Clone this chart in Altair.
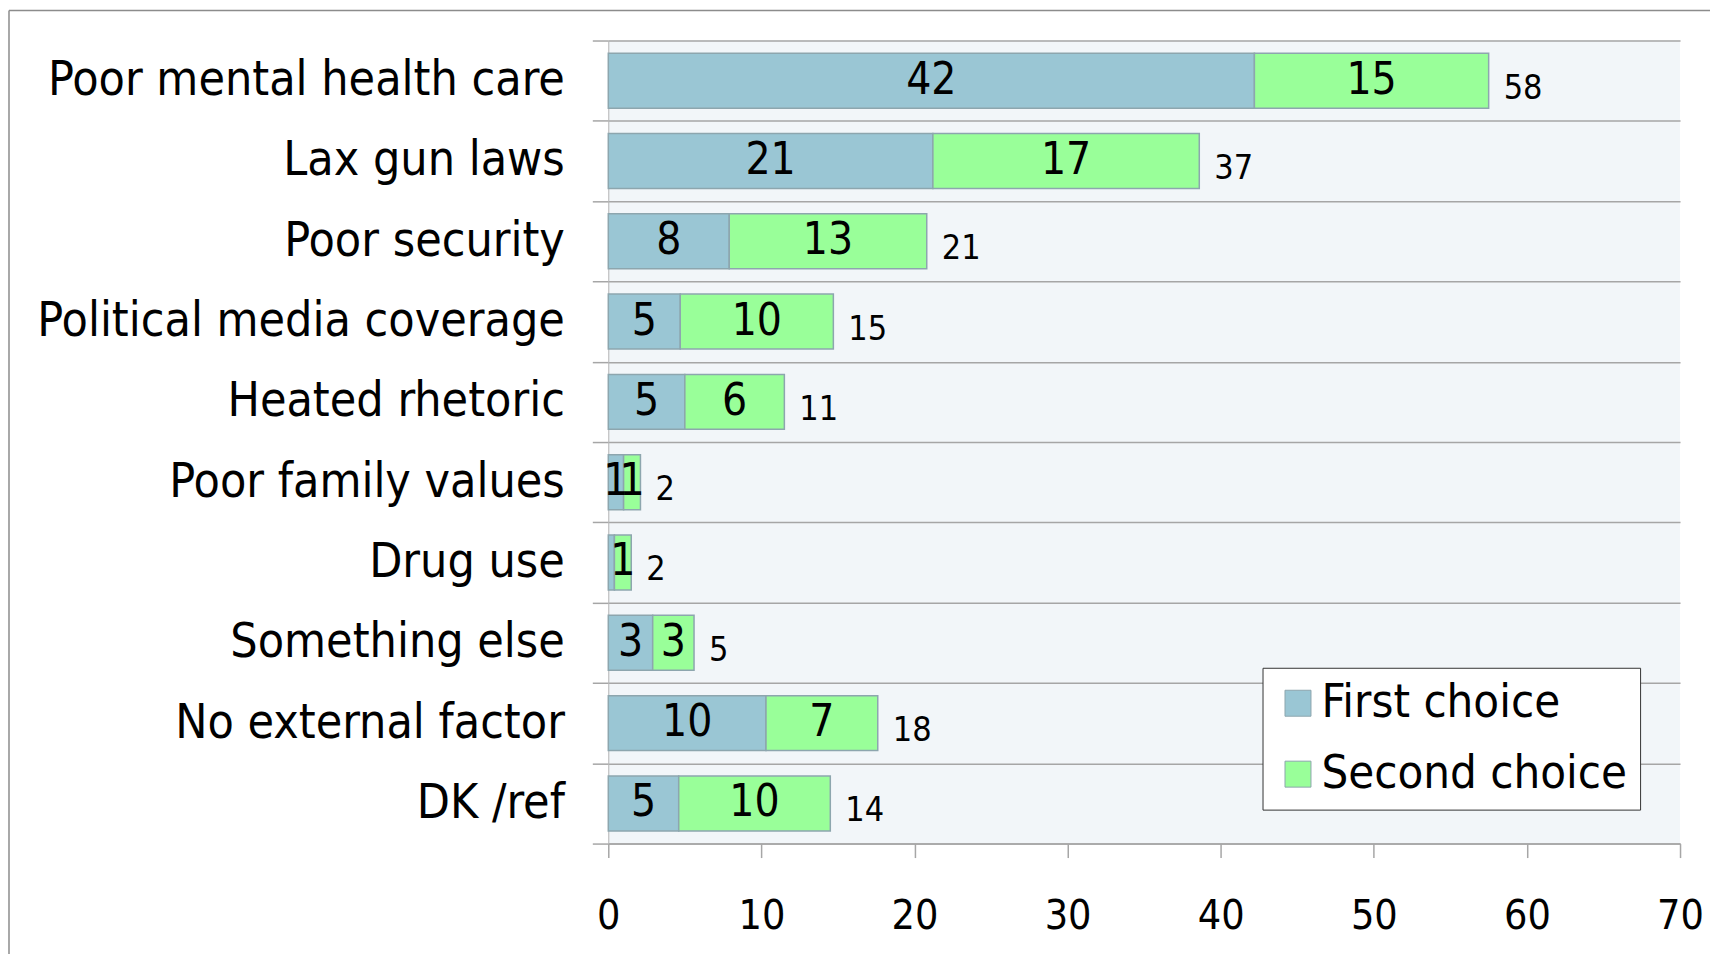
import altair as alt
import pandas as pd

categories = [
    "Poor mental health care",
    "Lax gun laws",
    "Poor security",
    "Political media coverage",
    "Heated rhetoric",
    "Poor family values",
    "Drug use",
    "Something else",
    "No external factor",
    "DK /ref",
]
first_choice = [42.2, 21.2, 7.9, 4.7, 5.0, 1.0, 0.4, 2.9, 10.3, 4.6]
second_choice = [15.3, 17.4, 12.9, 10.0, 6.5, 1.1, 1.1, 2.7, 7.3, 9.9]
first_labels = ["42", "21", "8", "5", "5", "1", "", "3", "10", "5"]
second_labels = ["15", "17", "13", "10", "6", "1", "1", "3", "7", "10"]
total_labels = ["58", "37", "21", "15", "11", "2", "2", "5", "18", "14"]
series_names = ["First choice", "Second choice"]
series_colors = ["#9AC6D4", "#99FF99"]
x_ticks = [0, 10, 20, 30, 40, 50, 60, 70]

FONT = "DejaVu Sans Condensed, DejaVu Sans, sans-serif"
GRID = "#A6A6A6"
EDGE = "#8DA6AE"

rows = []
for c, f, s, fl, sl in zip(categories, first_choice, second_choice, first_labels, second_labels):
    rows.append({"category": c, "series": series_names[0], "start": 0.0, "end": f, "label": fl})
    rows.append({"category": c, "series": series_names[1], "start": f, "end": f + s, "label": sl})
seg = pd.DataFrame(rows)
seg["mid"] = (seg["start"] + seg["end"]) / 2

tot = pd.DataFrame({
    "category": categories,
    "total": [f + s for f, s in zip(first_choice, second_choice)],
    "label": total_labels,
})

y_enc = alt.Y(
    "category:N",
    sort=categories,
    scale=alt.Scale(paddingInner=0, paddingOuter=0),
    axis=alt.Axis(
        title=None, labelFontSize=48, labelFont=FONT, labelColor="black",
        tickSize=16, tickBand="extent", tickColor=GRID, tickWidth=1.5,
        grid=True, gridColor=GRID, gridWidth=1.5,
        domainColor="#B4B4B4", domainWidth=1, labelPadding=28, labelLimit=800,
    ),
)
x_scale = alt.Scale(domain=[0, 70], nice=False, zero=True)
x_axis = alt.Axis(
    title=None, values=x_ticks, grid=False, tickSize=14, tickColor=GRID, tickWidth=1.5,
    domainColor=GRID, domainWidth=1.5, labelFontSize=41, labelFont=FONT,
    labelColor="black", labelPadding=39, labelFlush=False,
)

bars = alt.Chart(seg).mark_bar(size=55, stroke=EDGE, strokeWidth=1.5).encode(
    y=y_enc,
    x=alt.X("start:Q", scale=x_scale, axis=x_axis),
    x2="end:Q",
    color=alt.Color(
        "series:N",
        scale=alt.Scale(domain=series_names, range=series_colors),
        legend=alt.Legend(
            title=None, orient="none", legendX=655, legendY=628, direction="vertical",
            labelFontSize=47, labelFont=FONT, labelColor="black", labelLimit=500,
            symbolType="square", symbolSize=676, symbolStrokeColor=EDGE,
            symbolStrokeWidth=1, symbolOpacity=1, labelOffset=0, rowPadding=23,
            padding=12, strokeColor="#333333", fillColor="white",
        ),
    ),
)

seg_text = alt.Chart(seg).mark_text(fontSize=44, font=FONT, color="black").encode(
    y=alt.Y("category:N", sort=categories),
    x=alt.X("mid:Q", scale=x_scale),
    text="label:N",
)

tot_text = alt.Chart(tot).mark_text(
    fontSize=34, font=FONT, color="black", align="left", dx=15, dy=8
).encode(
    y=alt.Y("category:N", sort=categories),
    x=alt.X("total:Q", scale=x_scale),
    text="label:N",
)

frame_df = pd.DataFrame({"k": [0]})
frame_top = alt.Chart(frame_df).mark_rule(color="#8C8C8C", strokeWidth=1.5).encode(
    x=alt.value(-600), x2=alt.value(1200), y=alt.value(-30)
)
frame_left = alt.Chart(frame_df).mark_rule(color="#8C8C8C", strokeWidth=1.5).encode(
    x=alt.value(-600), y=alt.value(-30), y2=alt.value(1000)
)

chart = alt.layer(frame_top, frame_left, bars, seg_text, tot_text).properties(
    width=1073,
    height=804,
    padding={"left": 601, "top": 32, "right": 30, "bottom": 110},
    autosize=alt.AutoSizeParams(type="none"),
    background="white",
).configure_view(fill="#F2F6F9", stroke=None)

chart.save("out.html", embed_options={"renderer": "svg", "actions": False})
